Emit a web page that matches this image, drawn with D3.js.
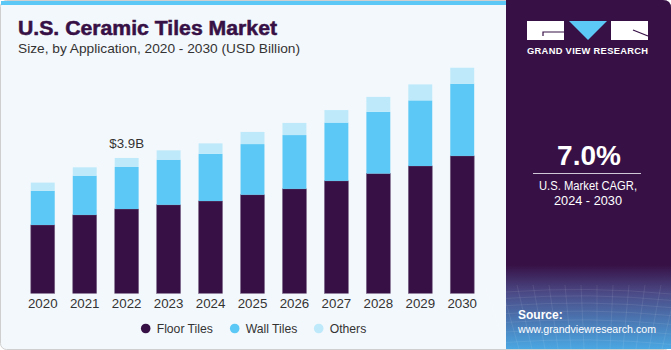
<!DOCTYPE html>
<html><head><meta charset="utf-8">
<script src="https://cdn.jsdelivr.net/npm/d3@7"></script>
<style>html,body{margin:0;padding:0;background:#fff;}svg{display:block;}</style>
</head><body>
<svg id="chart" width="671" height="350"></svg>
<script>
const years = ["2020","2021","2022","2023","2024","2025","2026","2027","2028","2029","2030"];
const floorTiles = [1.97, 2.26, 2.43, 2.55, 2.66, 2.84, 3.01, 3.24, 3.45, 3.67, 3.96];
const wallTiles  = [0.98, 1.13, 1.21, 1.30, 1.36, 1.46, 1.55, 1.68, 1.78, 1.89, 2.08];
const others     = [0.24, 0.24, 0.26, 0.27, 0.30, 0.35, 0.35, 0.36, 0.43, 0.46, 0.46];
const seriesNames = ["Floor Tiles","Wall Tiles","Others"];
const seriesColors = ["#371146","#5bc8f5","#bde9fa"];
const annotation = {year:"2022", text:"$3.9B"};

const svg = d3.select("#chart");
const W = 671, H = 350;
const font = "'Liberation Sans', Arial, sans-serif";

// background card
svg.append("rect").attr("x",0.5).attr("y",0.5).attr("width",W-1).attr("height",H-1)
  .attr("rx",6).attr("fill","#f3f8fc").attr("stroke","#cfcfcf");
svg.append("rect").attr("x",1).attr("y",1).attr("width",505).attr("height",4).attr("fill","#5bc8f5");

// right panel
const defs = svg.append("defs");
const grad = defs.append("linearGradient").attr("id","pg").attr("x1",0).attr("y1",0).attr("x2",0).attr("y2",1);
grad.append("stop").attr("offset","0%").attr("stop-color","#371146");
grad.append("stop").attr("offset","76%").attr("stop-color","#371146");
grad.append("stop").attr("offset","84%").attr("stop-color","#4b4a86");
grad.append("stop").attr("offset","100%").attr("stop-color","#4aa7e2");
svg.append("path")
  .attr("d", `M506,0 H663 Q671,0 671,8 V349 H506 Z`)
  .attr("fill","url(#pg)");
const mesh = svg.append("g").attr("stroke","#ffffff").attr("stroke-opacity",0.12).attr("stroke-width",0.7).attr("fill","none");
for (let i=0;i<10;i++){
  const yy = 292 + i*6 + i*i*0.4;
  mesh.append("path").attr("d",`M506,${yy} Q590,${yy-6} 671,${yy+2}`);
}
for (let i=0;i<14;i++){
  const xx = 506 + i*13;
  mesh.append("path").attr("d",`M${xx},349 L${xx+(i-7)*3},285`);
}

// logo
const logo = svg.append("g");
logo.append("rect").attr("x",527).attr("y",21).attr("width",37).attr("height",19).attr("fill","#fff");
logo.append("path").attr("d","M543,36 V32 H564").attr("stroke","#371146").attr("stroke-width",1.2).attr("fill","none");
logo.append("path").attr("d","M569,21 L607,21 L588,40 Z").attr("fill","#5bc8f5");
logo.append("rect").attr("x",611).attr("y",21).attr("width",37).attr("height",19).attr("fill","#fff");
logo.append("path").attr("d","M633,30 L648,36").attr("stroke","#371146").attr("stroke-width",1.2).attr("fill","none");
svg.append("text").attr("x",527).attr("y",54)
  .attr("font-family",font).attr("font-weight","bold").attr("font-size",9.3)
  .attr("textLength",121).attr("lengthAdjust","spacing")
  .attr("fill","#fff").text("GRAND VIEW RESEARCH");

// CAGR
svg.append("text").attr("x",589).attr("y",165).attr("text-anchor","middle")
  .attr("font-family",font).attr("font-weight","bold").attr("font-size",28).attr("fill","#fff").text("7.0%");
svg.append("line").attr("x1",533).attr("x2",641).attr("y1",173.5).attr("y2",173.5).attr("stroke","#cfc6d6").attr("stroke-width",1);
svg.append("text").attr("x",539).attr("y",190)
  .attr("font-family",font).attr("font-size",12.5).attr("textLength",98).attr("lengthAdjust","spacingAndGlyphs")
  .attr("fill","#fff").text("U.S. Market CAGR,");
svg.append("text").attr("x",554).attr("y",205)
  .attr("font-family",font).attr("font-size",12.5).attr("textLength",68).attr("lengthAdjust","spacingAndGlyphs")
  .attr("fill","#fff").text("2024 - 2030");
svg.append("text").attr("x",518).attr("y",319)
  .attr("font-family",font).attr("font-weight","bold").attr("font-size",12).attr("fill","#fff").text("Source:");
svg.append("text").attr("x",518).attr("y",333)
  .attr("font-family",font).attr("font-size",10.8).attr("textLength",138).attr("lengthAdjust","spacingAndGlyphs")
  .attr("fill","#fff").text("www.grandviewresearch.com");

// titles
svg.append("text").attr("x",18).attr("y",35).attr("font-family",font)
  .attr("font-weight","900").attr("font-size",19.5).attr("textLength",259).attr("lengthAdjust","spacingAndGlyphs")
  .attr("stroke","#371146").attr("stroke-width",0.5)
  .attr("fill","#371146").text("U.S. Ceramic Tiles Market");
svg.append("text").attr("x",18).attr("y",53).attr("font-family",font)
  .attr("font-size",13.5).attr("textLength",282).attr("lengthAdjust","spacingAndGlyphs")
  .attr("fill","#333").text("Size, by Application, 2020 - 2030 (USD Billion)");

// chart
const x = d3.scaleBand().domain(years).range([22,483]).paddingInner(0.43).paddingOuter(0.21);
const y = d3.scaleLinear().domain([0,7]).range([293.3, 293.3 - 34.7*7]);

const data = years.map((yr,i)=>({year:yr, "Floor Tiles":floorTiles[i], "Wall Tiles":wallTiles[i], "Others":others[i]}));
const stack = d3.stack().keys(seriesNames)(data);
const g = svg.append("g");
stack.forEach((layer,li)=>{
  g.append("g").selectAll("rect").data(layer).join("rect")
    .attr("x",d=>x(d.data.year)).attr("width",x.bandwidth())
    .attr("y",d=>y(d[1])).attr("height",d=>y(d[0])-y(d[1]))
    .attr("fill",seriesColors[li])
    .attr("stroke", li===0 ? "#7a6488" : "none").attr("stroke-width",0.6);
});

// x axis labels
const xAxis = d3.axisBottom(x).tickSize(0).tickPadding(5);
const ax = svg.append("g").attr("transform","translate(0,294)").call(xAxis);
ax.select(".domain").remove();
ax.selectAll("text").attr("font-family",font).attr("font-size",13.3).attr("fill","#333");

// annotation
const ai = years.indexOf(annotation.year);
const tot = floorTiles[ai]+wallTiles[ai]+others[ai];
svg.append("text").attr("x",x(annotation.year)+x.bandwidth()/2).attr("y",y(tot)-10)
  .attr("text-anchor","middle").attr("font-family",font).attr("font-size",13.3).attr("fill","#333").text(annotation.text);

// legend
const legX = [145.7, 234.7, 318.7];
const leg = svg.append("g");
seriesNames.forEach((n,i)=>{
  leg.append("circle").attr("cx",legX[i]).attr("cy",328.5).attr("r",4.8).attr("fill",seriesColors[i]);
  leg.append("text").attr("x",legX[i]+11).attr("y",333).attr("font-family",font)
    .attr("font-size",12.2).attr("fill","#333").text(n);
});
</script>
</body></html>
